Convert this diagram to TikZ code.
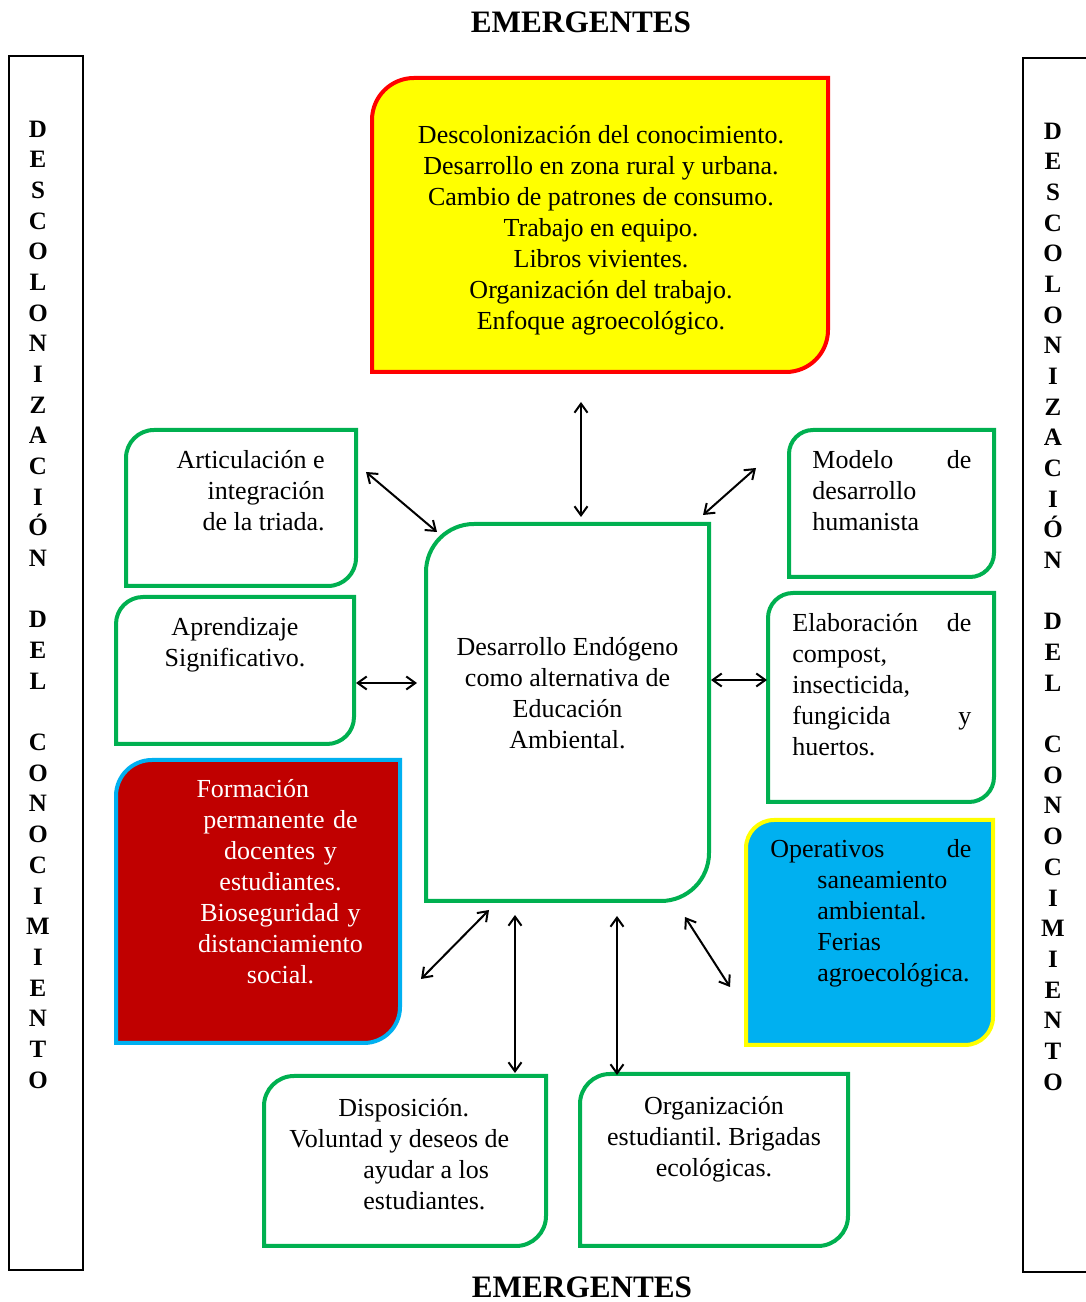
\documentclass[tikz,border=0pt]{standalone}
\usepackage{fontspec}
\setmainfont{Liberation Serif}
\usetikzlibrary{positioning,arrows.meta}
\frenchspacing
\definecolor{verde}{HTML}{00B050}
\definecolor{rojo}{HTML}{FF0000}
\definecolor{amarillo}{HTML}{FFFF00}
\definecolor{vino}{HTML}{C00000}
\definecolor{celeste}{HTML}{00B0F0}
\newcommand{\descol}{D\\E\\S\\C\\O\\L\\O\\N\\I\\Z\\A\\C\\I\\Ó\\N\\\mbox{}\\D\\E\\L\\\mbox{}\\C\\O\\N\\O\\C\\I\\M\\I\\E\\N\\T\\O}
\tikzset{
  caja/.style={rectangle, inner sep=0pt, outer sep=0pt},
  txt/.style={inner sep=0pt, font=\fontsize{13}{15.5}\selectfont},
  vert/.style={inner sep=0pt, align=center, font=\fontsize{12.5}{15.34}\selectfont\bfseries},
  titulo/.style={inner sep=0pt, font=\fontsize{15.6}{18}\selectfont\bfseries},
  flecha/.style={<->, >={Straight Barb[length=4.5pt,width=6.5pt]}, line width=1pt},
  barra/.style={line width=1pt}
}
\begin{document}
\begin{tikzpicture}[x=1pt,y=1pt]
\useasboundingbox (0,0) rectangle (543,651);

% Cajas
\node[caja, minimum width=228pt, minimum height=147pt] (yel) at (300,538.5) {};
\node[caja, minimum width=115pt, minimum height=78pt] (art) at (120.5,397) {};
\node[caja, minimum width=119pt, minimum height=73.5pt] (apr) at (117.5,315.75) {};
\node[caja, minimum width=142pt, minimum height=141.5pt] (frm) at (129,200.25) {};
\node[caja, minimum width=141.5pt, minimum height=188.5pt] (cen) at (283.75,294.75) {};
\node[caja, minimum width=102.5pt, minimum height=73.5pt] (mod) at (445.75,399.25) {};
\node[caja, minimum width=113pt, minimum height=104.5pt] (ela) at (440.5,302.25) {};
\node[caja, minimum width=123.5pt, minimum height=112.5pt] (ope) at (434.75,184.75) {};
\node[caja, minimum width=141pt, minimum height=85pt] (dis) at (202.5,70.5) {};
\node[caja, minimum width=134pt, minimum height=86pt] (org) at (357,71) {};

% Bordes: esquina superior izquierda y inferior derecha redondeadas
\foreach \n/\r/\col/\fil in {yel/21/rojo/amarillo, art/14/verde/white, apr/13.5/verde/white,
  frm/18/celeste/vino, cen/24/verde/white, mod/12/verde/white, ela/12.5/verde/white,
  ope/14/amarillo/celeste, dis/15/verde/white, org/15/verde/white}
  \draw[line width=2pt, draw=\col, fill=\fil] ([yshift=-\r pt]\n.north west)
    arc[start angle=180, end angle=90, radius=\r pt] -- (\n.north east)
    -- ([yshift=\r pt]\n.south east) arc[start angle=0, end angle=-90, radius=\r pt]
    -- (\n.south west) -- cycle;

% Textos
\node[txt, align=center] (yeltxt) at ([xshift=0.5pt,yshift=-2.5pt]yel.center) {Descolonización del conocimiento.\\Desarrollo en zona rural y urbana.\\Cambio de patrones de consumo.\\Trabajo en equipo.\\Libros vivientes.\\Organización del trabajo.\\Enfoque agroecológico.};
\node[txt, align=right, below left=10pt and 15.5pt of art.north east] (arttxt) {Articulación e\\integración\\de la triada.};
\node[txt, align=center, below=10pt of apr.north] (aprtxt) {Aprendizaje\\Significativo.};
\node[txt, align=center, text width=84pt, text=white, below=9.5pt of frm.north, xshift=11.25pt] (frmtxt) {Formación\hfill\mbox{}\\permanente de\\docentes y\\estudiantes.\\Bioseguridad y\\distanciamiento\\social.};
\node[txt, align=center] (centxt) at ([yshift=9.75pt]cen.center) {Desarrollo Endógeno\\como alternativa de\\Educación\\Ambiental.};
\node[txt, align=flush left, text width=79.5pt, below right=10pt and 11.5pt of mod.north west] (modtxt) {Modelo\hfill de\\desarrollo\\humanista};
\node[txt, align=flush left, text width=89.5pt, below right=10pt and 12pt of ela.north west] (elatxt) {Elaboración\hfill de\\compost,\\insecticida,\\fungicida\hfill y\\huertos.};
\node[txt, align=flush left, text width=100.5pt, below right=9.5pt and 12pt of ope.north west] (opetxt) {Operativos\hfill de\\\hspace*{23.5pt}saneamiento\\\hspace*{23.5pt}ambiental.\\\hspace*{23.5pt}Ferias\\\hspace*{23.5pt}agroecológica.};
\node[txt, align=flush left, text width=125pt, below right=11pt and 12.5pt of dis.north west] (distxt) {\hspace*{24.5pt}Disposición.\\Voluntad y deseos de\\\hspace*{37pt}ayudar a los\\\hspace*{37pt}estudiantes.};
\node[txt, align=center, below=11pt of org.north] (orgtxt) {Organización\\estudiantil. Brigadas\\ecológicas.};

% Flechas
\draw[flecha] ([shift={(-9.5pt,-15pt)}]yel.south) -- ([shift={(6.75pt,3.5pt)}]cen.north);
\draw[flecha] ([shift={(5pt,18pt)}]art.east) -- ([shift={(5.5pt,-4pt)}]cen.north west);
\draw[flecha] ([shift={(-16.5pt,17.75pt)}]mod.west) -- ([shift={(-3pt,4.5pt)}]cen.north east);
\draw[flecha] ([shift={(1pt,-6.25pt)}]apr.east) -- ([shift={(-4.5pt,14.75pt)}]cen.west);
\draw[flecha] ([shift={(1pt,16.25pt)}]cen.east) -- ([shift={(-0.5pt,8.75pt)}]ela.west);
\draw[flecha] ([shift={(10.5pt,-38.75pt)}]frm.east) -- ([shift={(-39.25pt,-4.5pt)}]cen.south);
\draw[flecha] ([shift={(-26.25pt,-7pt)}]cen.south) -- ([shift={(55pt,1.5pt)}]dis.north);
\draw[flecha] ([shift={(24.75pt,-7.5pt)}]cen.south) -- ([shift={(-48.5pt,-0.5pt)}]org.north);
\draw[flecha] ([shift={(-12pt,-8pt)}]cen.south east) -- ([shift={(-8pt,-27.25pt)}]ope.west);

% Titulos y barras laterales
\node[titulo] (arriba) at (290.5,640) {EMERGENTES};
\node[titulo] (abajo) at (291,7.5) {EMERGENTES};
\draw[barra] (4.5,16) rectangle (41.5,623);
\draw[barra] (545,622) -- (511.5,622) -- (511.5,15) -- (545,15);
\node[vert] (izq) at (19,348.75) {\descol};
\node[vert] (der) at (526.5,347.75) {\descol};
\end{tikzpicture}
\end{document}
